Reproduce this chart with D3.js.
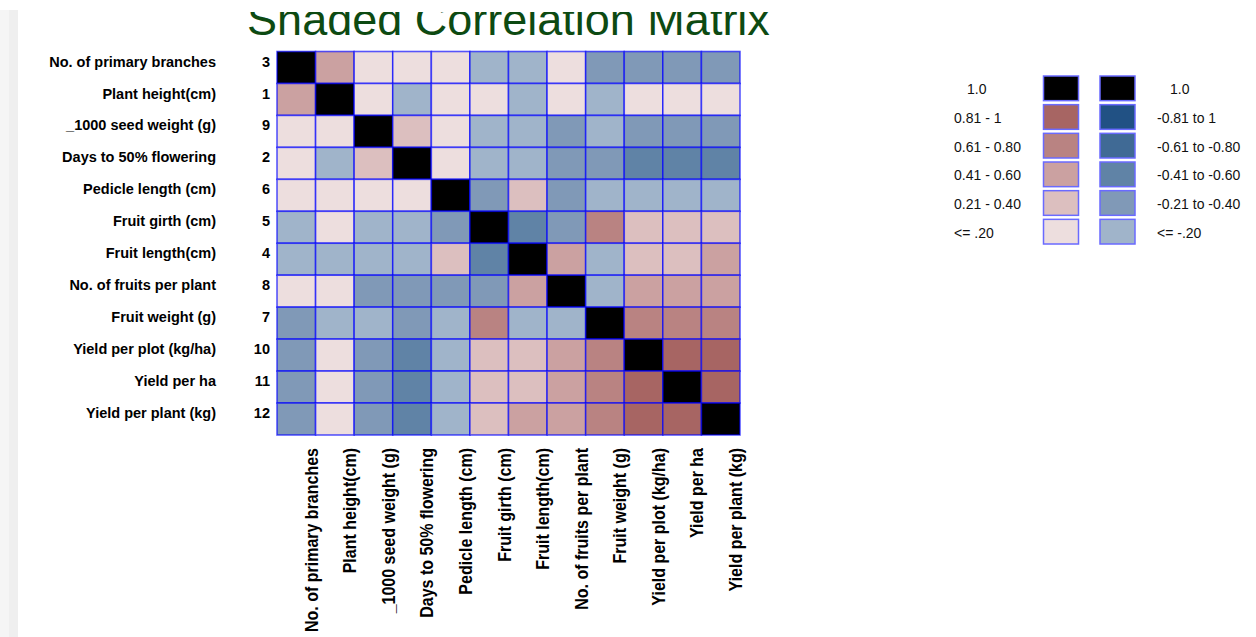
<!DOCTYPE html>
<html>
<head>
<meta charset="utf-8">
<script src="https://cdn.jsdelivr.net/npm/d3@7"></script>
<style>
  body { margin: 0; background: #fff; }
  svg text { font-family: "Liberation Sans", Arial, sans-serif; }
</style>
</head>
<body>
<svg></svg>
<script>
var width = 1256;
var height = 637;

// variable names, in matrix order
var variables = [
  "No. of primary branches", "Plant height(cm)", "_1000 seed weight (g)",
  "Days to 50% flowering", "Pedicle length (cm)", "Fruit girth (cm)",
  "Fruit length(cm)", "No. of fruits per plant", "Fruit weight (g)",
  "Yield per plot (kg/ha)", "Yield per ha", "Yield per plant (kg)"
];
var varNumbers = [3, 1, 9, 2, 6, 5, 4, 8, 7, 10, 11, 12];

// correlation estimates read from the shading
var corr = [
  [1.00, 0.47, 0.11, 0.09, 0.14, -0.16, -0.13, 0.05, -0.28, -0.31, -0.30, -0.29],
  [0.47, 1.00, 0.12, -0.15, 0.08, 0.10, -0.18, 0.13, -0.17, 0.06, 0.07, 0.06],
  [0.11, 0.12, 1.00, 0.27, 0.15, -0.14, -0.11, -0.33, -0.19, -0.32, -0.33, -0.30],
  [0.09, -0.15, 0.27, 1.00, 0.10, -0.17, -0.16, -0.29, -0.35, -0.46, -0.47, -0.45],
  [0.14, 0.08, 0.15, 0.10, 1.00, -0.36, 0.29, -0.31, -0.15, -0.17, -0.18, -0.16],
  [-0.16, 0.10, -0.14, -0.17, -0.36, 1.00, -0.44, -0.27, 0.66, 0.33, 0.34, 0.31],
  [-0.13, -0.18, -0.11, -0.16, 0.29, -0.44, 1.00, 0.48, -0.19, 0.36, 0.37, 0.44],
  [0.05, 0.13, -0.33, -0.29, -0.31, -0.27, 0.48, 1.00, -0.15, 0.52, 0.51, 0.53],
  [-0.28, -0.17, -0.19, -0.35, -0.15, 0.66, -0.19, -0.15, 1.00, 0.70, 0.69, 0.71],
  [-0.31, 0.06, -0.32, -0.46, -0.17, 0.33, 0.36, 0.52, 0.70, 1.00, 0.92, 0.90],
  [-0.30, 0.07, -0.33, -0.47, -0.18, 0.34, 0.37, 0.51, 0.69, 0.92, 1.00, 0.91],
  [-0.29, 0.06, -0.30, -0.45, -0.16, 0.31, 0.44, 0.53, 0.71, 0.90, 0.91, 1.00]
];

// legend
var posLabels = ["1.0", "0.81 - 1", "0.61 - 0.80", "0.41 - 0.60", "0.21 - 0.40", "<= .20"];
var posKeys = [1, 0.9, 0.7, 0.5, 0.3, 0.1];
var negLabels = ["1.0", "-0.81 to 1", "-0.61 to -0.80", "-0.41 to -0.60", "-0.21 to -0.40", "<= -.20"];
var negKeys = [1, -0.9, -0.7, -0.5, -0.3, -0.1];

var svg = d3.select("svg");
svg.attr('width', width).attr('height', height);

// faint page edge on the left
svg.append('rect').attr('x', 0).attr('y', 10).attr('width', 18).attr('height', height - 10).attr('fill', '#f5f5f5');
svg.append('rect').attr('x', 9).attr('y', 10).attr('width', 9).attr('height', height - 10).attr('fill', '#efefef');

var colorScale = d3.scaleThreshold()
  .domain([-0.805, -0.605, -0.405, -0.205, 0, 0.205, 0.405, 0.605, 0.805, 0.999])
  .range(['#215184', '#406a95', '#6083a6', '#8099b7', '#a0b4ca',
          '#eddede', '#dcbfbf', '#cba1a1', '#b98382', '#a76563', '#000000']);

var xScale = d3.scaleBand()
  .domain(d3.range(variables.length))
  .range([277, 740]);

var yScale = d3.scaleBand()
  .domain(d3.range(variables.length))
  .range([51.5, 435]);

var cells = [];
corr.forEach(function(row, i) {
  row.forEach(function(v, j) {
    cells.push({row: i, col: j, value: v});
  });
});

// title, top clipped as in the source
svg.append('clipPath').attr('id', 'titleClip')
  .append('rect').attr('x', 0).attr('y', 12).attr('width', width).attr('height', 60);

svg.append('text')
  .attr('clip-path', 'url(#titleClip)')
  .attr('x', (xScale.range()[0] + xScale.range()[1]) / 2)
  .attr('y', 35)
  .attr('text-anchor', 'middle')
  .attr('font-size', 45)
  .attr('fill', '#0d4a12')
  .text('Shaded Correlation Matrix');

// add cells
svg.selectAll('rect.cell')
  .data(cells)
  .enter()
  .append('rect')
  .attr('class', 'cell')
  .attr('x', function(d) { return xScale(d.col); })
  .attr('y', function(d) { return yScale(d.row); })
  .attr('width', xScale.bandwidth())
  .attr('height', yScale.bandwidth())
  .attr('fill', function(d) { return colorScale(d.value); })
  .attr('stroke', 'blue')
  .attr('stroke-opacity', 0.65)
  .attr('stroke-width', 1.6);

// row labels
svg.selectAll('text.rowlab')
  .data(variables)
  .enter()
  .append('text')
  .attr('class', 'rowlab')
  .attr('x', 216)
  .attr('y', function(d, i) { return yScale(i) + yScale.bandwidth() / 2 - 6; })
  .attr('dy', '0.35em')
  .attr('text-anchor', 'end')
  .attr('font-size', 14.5)
  .attr('font-weight', 'bold')
  .text(function(d) { return d; });

svg.selectAll('text.rownum')
  .data(varNumbers)
  .enter()
  .append('text')
  .attr('class', 'rownum')
  .attr('x', 270)
  .attr('y', function(d, i) { return yScale(i) + yScale.bandwidth() / 2 - 6; })
  .attr('dy', '0.35em')
  .attr('text-anchor', 'end')
  .attr('font-size', 14.5)
  .attr('font-weight', 'bold')
  .text(function(d) { return d; });

// column labels (slightly condensed, like the source)
svg.selectAll('text.collab')
  .data(variables)
  .enter()
  .append('text')
  .attr('class', 'collab')
  .attr('transform', function(d, i) {
    return 'translate(' + (xScale(i) + xScale.bandwidth() / 2 + 15) + ',448) rotate(-90) scale(0.89,1)';
  })
  .attr('dy', '0.35em')
  .attr('text-anchor', 'end')
  .attr('font-size', 18)
  .attr('font-weight', 'bold')
  .text(function(d) { return d; });

// legend
var legendY = d3.scaleBand()
  .domain(d3.range(posLabels.length))
  .range([76, 244])
  .paddingInner(0.14);

function legendColumn(keys, labels, boxX, textX) {
  svg.selectAll(null)
    .data(keys)
    .enter()
    .append('rect')
    .attr('x', boxX)
    .attr('y', function(d, i) { return legendY(i); })
    .attr('width', 35)
    .attr('height', legendY.bandwidth())
    .attr('fill', function(d) { return colorScale(d); })
    .attr('stroke', '#6a6aff')
    .attr('stroke-width', 1.5);

  svg.selectAll(null)
    .data(labels)
    .enter()
    .append('text')
    .attr('x', function(d, i) { return textX + (i === 0 ? 13 : 0); })
    .attr('y', function(d, i) { return legendY(i) + legendY.bandwidth() / 2 + 1; })
    .attr('dy', '0.35em')
    .attr('font-size', 14)
    .attr('fill', '#111')
    .text(function(d) { return d; });
}

legendColumn(posKeys, posLabels, 1043.5, 954);
legendColumn(negKeys, negLabels, 1100, 1157);
</script>
</body>
</html>
